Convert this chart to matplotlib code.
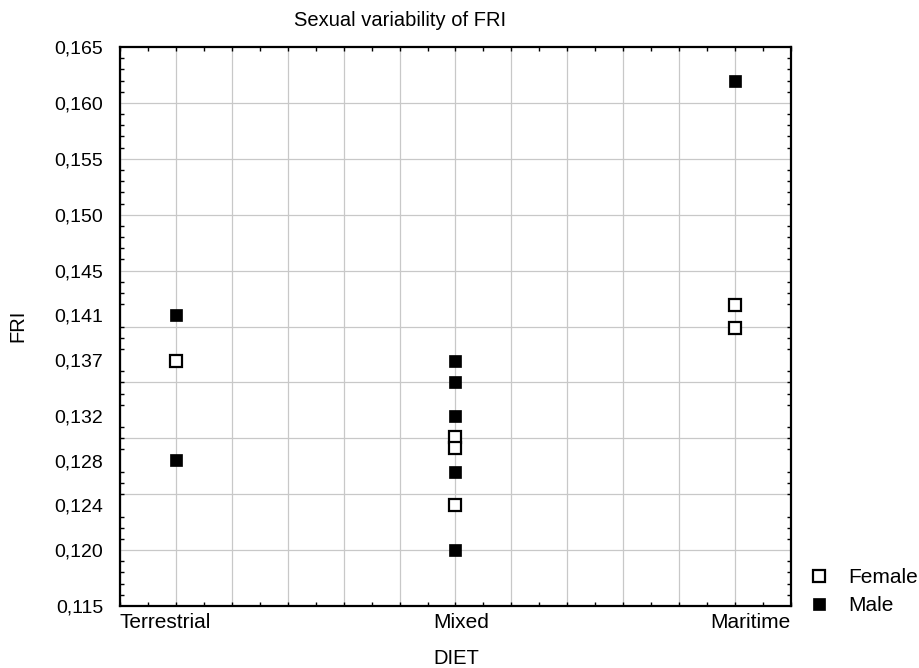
import numpy as np
import matplotlib
matplotlib.use('Agg')
import matplotlib.pyplot as plt
from matplotlib.ticker import MultipleLocator

plt.rcParams['font.family'] = ['Liberation Sans', 'DejaVu Sans']

## Data ##
diets = ['Terrestrial', 'Mixed', 'Maritime']
diet_pos = [1, 6, 11]

female_diet = ['Terrestrial', 'Mixed', 'Mixed', 'Mixed', 'Maritime', 'Maritime']
female_fri = [0.1369, 0.1301, 0.1291, 0.1240, 0.1419, 0.1399]

male_diet = ['Terrestrial', 'Terrestrial', 'Mixed', 'Mixed', 'Mixed', 'Mixed', 'Mixed', 'Maritime']
male_fri = [0.1410, 0.1281, 0.1369, 0.1350, 0.1320, 0.1270, 0.1200, 0.1620]

ytick_vals = [0.115, 0.120, 0.124, 0.128, 0.132, 0.137, 0.141, 0.145, 0.150, 0.155, 0.160, 0.165]

pos = dict(zip(diets, diet_pos))

fig = plt.figure(figsize=(9.2, 6.68), dpi=100)
ax = fig.add_axes([120/920, 1-606/668, 671/920, 559/668])

ax.set_xlim(0, 12)
ax.set_ylim(0.115, 0.165)

# grid
ax.set_xticks(np.arange(0, 13, 1))
ax.set_xticklabels([])
ax.xaxis.set_minor_locator(MultipleLocator(0.5))
ax.grid(axis='x', color='#c8c8c8', lw=0.9, zorder=0)
for g in np.arange(0.120, 0.1601, 0.005):
    ax.axhline(g, color='#c8c8c8', lw=0.9, zorder=0)

ax.plot([pos[d] for d in female_diet], female_fri, 's', ms=9, mfc='white', mec='black',
        mew=1.6, ls='none', label='Female', zorder=3)
ax.plot([pos[d] for d in male_diet], male_fri, 's', ms=8, mfc='black', mec='black',
        mew=0.5, ls='none', label='Male', zorder=3)

ax.set_yticks(ytick_vals)
ax.set_yticklabels([f"{v:.3f}".replace('.', ',') for v in ytick_vals], fontsize=14)
ax.yaxis.set_minor_locator(MultipleLocator(0.001))
ax.tick_params(axis='y', which='major', length=0, pad=12)
ax.tick_params(axis='y', which='minor', direction='in', length=3, width=1, left=True, right=True)
ax.tick_params(axis='x', which='both', direction='in', length=3, width=1, top=True, bottom=True)

for s in ax.spines.values():
    s.set_linewidth(1.6)

# category labels
aligns = ['left', 'center', 'right']
xs = [0, 6.1, 12]
for lab, x, ha in zip(diets, xs, aligns):
    ax.text(x, -0.012, lab, transform=ax.get_xaxis_transform(), ha=ha, va='top', fontsize=15)

fig.text(400/920, 1-20/668, 'Sexual variability of FRI', ha='center', va='center', fontsize=14.5)
fig.text(18/920, 1-326/668, 'FRI', ha='center', va='center', rotation=90, fontsize=14.5)
fig.text(456/920, 1-658/668, 'DIET', ha='center', va='center', fontsize=14.5)

ax.legend(loc='upper left', bbox_to_anchor=(809/920, 1-568/668), bbox_transform=fig.transFigure,
          frameon=False, handlelength=1, handletextpad=0.9, labelspacing=0.45,
          borderpad=0, borderaxespad=0, fontsize=15)

fig.savefig('out.png', dpi=100)
